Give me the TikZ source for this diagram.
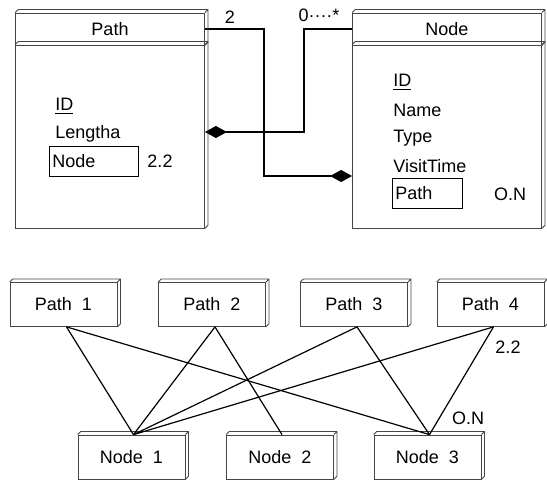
\documentclass[tikz,border=0pt]{standalone}
\usepackage{fontspec}
\setmainfont{Liberation Sans}
\usetikzlibrary{arrows.meta,positioning,calc}
\definecolor{edgegray}{RGB}{70,70,70}

\begin{document}
\begin{tikzpicture}[
 x=0.5pt, y=-0.5pt,
 font=\fontsize{9}{10.5}\selectfont,
 head/.style={rectangle, draw=edgegray, minimum width=94.5pt, minimum height=16pt, inner sep=0pt},
 body/.style={rectangle, draw=edgegray, minimum width=94.5pt, minimum height=91.5pt, inner sep=0pt},
 attr/.style={anchor=west, inner sep=0pt},
 attrbox/.style={rectangle, draw, anchor=west, minimum height=15pt, inner sep=1.5pt, align=left},
 entity/.style={rectangle, draw=edgegray, minimum width=53.5pt, minimum height=22pt},
 depth/.style={draw=edgegray},
 link/.style={semithick},
 agg/.style={-{Diamond[length=11pt,width=6pt]}, semithick},
 mult/.style={inner sep=1pt}
]
\useasboundingbox (0,0) rectangle (547,480);

% Class Path
\node[head] (phead) at (110,29) {Path};
\node[body] (pbody) at (110,136.5) {};
\node[attr] (pid) at (55,106) {\underline{ID}};
\node[attr] (plen) at (55,134) {Lengtha};
\node[attrbox, text width=41.5pt] (pnode) at (49,161) {Node};
\node[mult] (pnodemult) at (160,161) {2.2};

% Class Node
\node[head] (nhead) at (447,29) {Node};
\node[body] (nbody) at (447,136.5) {};
\node[attr] (nid) at (393,82) {\underline{ID}};
\node[attr] (nname) at (393,110) {Name};
\node[attr] (ntype) at (393,138) {Type};
\node[attr] (nvisit) at (393,166) {VisitTime};
\node[attrbox, text width=32pt] (npath) at (392,193) {Path};
\node[mult] (npathmult) at (510,194) {O.N};

% Associations
\coordinate (jA) at (264,176);
\coordinate (jB) at (304,132);
\draw[agg] (phead.east) -| (jA) -- (jA -| nbody.west);
\draw[agg] (nhead.west) -| (jB) -- (jB -| pbody.east);
\node[mult] (mtwo) at (230,17) {2};
\node[mult] (mmany) at (319,15) {0····*};

% Instances: paths
\node[entity] (p1) at (63.5,304.5) {Path\ \ 1};
\node[entity] (p2) at (212,304.5) {Path\ \ 2};
\node[entity] (p3) at (354,304.5) {Path\ \ 3};
\node[entity] (p4) at (490.5,304.5) {Path\ \ 4};

% Instances: nodes
\node[entity] (n1) at (131.5,457) {Node\ \ 1};
\node[entity] (n2) at (280,457) {Node\ \ 2};
\node[entity] (n3) at (427.5,457) {Node\ \ 3};

% Box depth
\foreach \n in {phead,pbody,nhead,nbody,p1,p2,p3,p4,n1,n2,n3}
 \draw[depth] (\n.north west) -- ++(1.5pt,1.5pt) -| ($(\n.south east)+(1.5pt,1.5pt)$) -- (\n.south east)
 (\n.north east) -- ++(1.5pt,1.5pt);

% Links
\foreach \a/\b in {p1/n1, p1/n3, p2/n1, p2/n2, p3/n1, p3/n3, p4/n1, p4/n3}
 \draw[link] ([xshift=1.5pt]\a.south) -- ([xshift=1pt]\b.north);

\node[mult] (lmult) at (508,347) {2.2};
\node[mult] (rmult) at (468,418) {O.N};

\end{tikzpicture}
\end{document}
